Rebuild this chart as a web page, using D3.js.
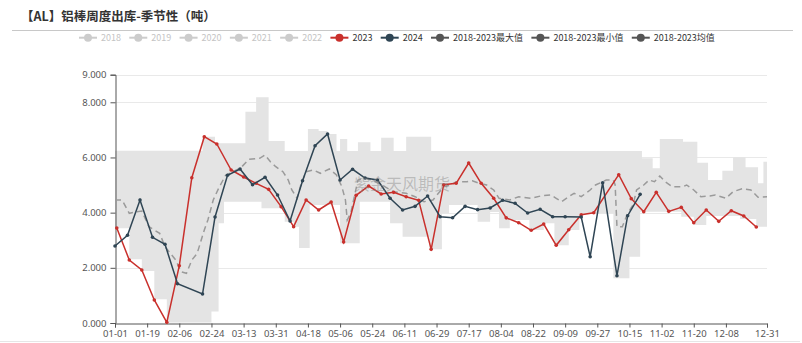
<!DOCTYPE html>
<html><head><meta charset="utf-8">
<script src="https://cdn.jsdelivr.net/npm/d3@7"></script>
<style>
html,body{margin:0;padding:0;background:#fff;}
svg{display:block;font-family:"Noto Sans CJK SC","Noto Sans",sans-serif;}
</style>
</head><body>
<svg id="chart" width="802" height="343"></svg>
<script>
const chartTitle = "【AL】铝棒周度出库-季节性（吨）";
const watermark = "紫金天风期货";
const legendNames = ["2018","2019","2020","2021","2022","2023","2024","2018-2023最大值","2018-2023最小值","2018-2023均值"];
const legendColors = ["#cccccc","#cccccc","#cccccc","#cccccc","#cccccc","#c9302c","#2f4554","#555555","#555555","#555555"];
const legendActive = [false,false,false,false,false,true,true,true,true,true];
const xTickLabels = ["01-01","01-19","02-06","02-24","03-13","03-31","04-18","05-06","05-24","06-11","06-29","07-17","08-04","08-22","09-09","09-27","10-15","11-02","11-20","12-08","12-31"];
const yTickValues = [0,2000,4000,6000,8000,9000];

const dates2023 = ["01-02","01-09","01-16","01-23","01-30","02-06","02-13","02-20","02-27","03-06","03-13","03-20","03-27","04-03","04-10","04-17","04-24","05-01","05-08","05-15","05-22","05-29","06-05","06-12","06-19","06-26","07-03","07-10","07-17","07-24","07-31","08-07","08-14","08-21","08-28","09-04","09-11","09-18","09-25","10-09","10-16","10-23","10-30","11-06","11-13","11-20","11-27","12-04","12-11","12-18","12-25"];
const values2023 = [3443,2283,1921,834,25,2077,5267,6753,6488,5545,5292,5063,4845,4216,3491,4458,4096,4386,2936,4628,4966,4676,4736,4578,4447,2670,5013,5063,5799,5063,4520,3811,3635,3360,3588,2816,3382,3925,3998,5375,4507,4035,4736,4047,4192,3635,4096,3685,4071,3878,3479];

const dates2024 = ["01-01","01-08","01-15","01-22","01-29","02-05","02-19","02-26","03-04","03-11","03-18","03-25","04-01","04-08","04-15","04-22","04-29","05-06","05-13","05-20","05-27","06-03","06-10","06-17","06-24","07-01","07-08","07-15","07-22","07-29","08-05","08-12","08-19","08-26","09-02","09-09","09-18","09-23","09-30","10-08","10-14","10-21"];
const values2024 = [2791,3178,4458,3106,2852,1424,1051,3842,5353,5582,5013,5281,4639,3697,5158,6427,6850,5183,5571,5255,5183,4520,4096,4229,4603,3853,3817,4229,4108,4168,4447,4338,3987,4121,3853,3853,3842,2404,5085,1714,3889,4664];

const maxDates = ["01-01","02-19","02-26","03-14","03-20","03-27","04-05","04-18","04-24","04-29","05-04","05-06","05-10","05-16","05-23","05-29","06-05","06-12","06-26","10-22","10-28","11-01","11-14","11-22","11-28","12-06","12-12","12-19","12-26","12-29"];
const maxValues = [6243,6753,6512,7659,8180,6597,6234,7031,6960,6850,6234,6669,6234,6549,6234,6717,6234,6753,6234,5970,5607,6669,6573,5813,5183,5520,6006,5643,5063,5848];

const minDates = ["01-01","01-09","01-16","01-23","01-30","02-24","02-28","03-02","03-23","04-05","04-10","04-13","04-19","05-06","05-17","06-03","06-10","06-25","07-02","07-06","07-22","07-29","08-03","08-09","08-20","08-28","09-03","09-11","09-17","10-06","10-15","10-21","11-13","11-20","11-27","12-16","12-25"];
const minValues = [3431,2307,1885,859,20,420,3613,4398,4157,3672,3491,2718,4277,2887,4398,3613,3128,2670,3976,4277,3672,4023,3431,3733,3371,3613,2816,3371,3976,1620,2403,4035,3853,3552,3878,3770,3490];

const meanDates = ["01-01","01-05","01-09","01-13","01-16","01-20","01-26","01-29","02-04","02-07","02-10","02-13","02-16","02-20","02-22","02-25","02-28","03-03","03-09","03-12","03-16","03-22","03-25","03-28","03-31","04-04","04-07","04-09","04-12","04-14","04-17","04-21","04-25","04-30","05-04","05-07","05-09","05-10","05-12","05-16","05-20","05-24","05-31","06-05","06-12","06-17","06-22","06-27","07-03","07-07","07-10","07-16","07-19","07-23","07-27","07-31","08-03","08-09","08-14","08-21","08-27","09-01","09-04","09-07","09-11","09-14","09-18","09-23","09-26","10-02","10-06","10-07","10-08","10-11","10-14","10-17","10-19","10-23","10-26","10-29","11-01","11-04","11-08","11-14","11-16","11-20","11-24","11-29","12-02","12-08","12-12","12-17","12-22","12-26","12-31"];
const meanValues = [4458,4458,3976,4034,4060,3490,3251,2765,2283,1859,1801,2283,2526,3371,3733,4458,4882,5364,5545,5665,5933,5970,6089,5846,5665,5484,5183,4821,4520,5002,5484,5545,5426,5582,5364,4940,4458,3733,3987,5183,5245,5183,4940,4759,4701,4578,4397,4458,4940,5002,5121,5121,5158,5063,5002,4821,4520,4458,4578,4520,4614,4639,4520,4397,4578,4701,4578,4821,5002,5183,5183,5002,3490,3490,3976,4277,4821,5002,5183,5121,5328,5121,4940,4940,5002,4821,4578,4603,4639,4520,4759,4868,4821,4556,4578];

const parse = md => d3.timeParse("%Y-%m-%d")("2024-" + md);
const svg = d3.select("#chart");
const W = 802, H = 343;
const plot = {left: 115, right: 767, top: 74.7, bottom: 323};

const x = d3.scaleTime().domain([parse("01-01"), parse("12-31")]).range([plot.left, plot.right]);
const y = d3.scaleLinear().domain([0, 9000]).range([plot.bottom, plot.top]);

svg.append("rect").attr("width", W).attr("height", H).attr("fill", "#fff");

// title
svg.append("text").attr("x", 21).attr("y", 21).attr("font-size", 12.5).attr("font-weight", "bold")
  .attr("fill", "#333").text(chartTitle);
svg.append("line").attr("x1", 12).attr("x2", 793).attr("y1", 30.5).attr("y2", 30.5)
  .attr("stroke", "#c8c8c8").attr("stroke-width", 1);
svg.append("line").attr("x1", 0).attr("x2", 800).attr("y1", 341.5).attr("y2", 341.5)
  .attr("stroke", "#e6e6e6").attr("stroke-width", 1);

// legend
const legend = svg.append("g");
const items = [];
let cursor = 0;
const gap = 8.3;
legendNames.forEach((name, i) => {
  const g = legend.append("g");
  const c = legendColors[i];
  g.append("line").attr("x1", 0).attr("x2", 18).attr("y1", 0).attr("y2", 0).attr("stroke", c).attr("stroke-width", 2);
  g.append("circle").attr("cx", 9).attr("cy", 0).attr("r", 4).attr("fill", c);
  const t = g.append("text").attr("x", 22).attr("y", 0).attr("dy", "0.35em").attr("font-size", 9)
    .attr("fill", legendActive[i] ? "#333" : "#c4c4c4").text(name);
  const w = t.node().getComputedTextLength();
  items.push({g, pos: cursor});
  cursor += 22 + w + gap;
});
const startX = 79;
items.forEach(it => it.g.attr("transform", `translate(${startX + it.pos},37.7)`));

// grid
svg.append("g").selectAll("line").data(yTickValues.filter(v => v > 0)).join("line")
  .attr("x1", plot.left).attr("x2", plot.right)
  .attr("y1", d => Math.round(y(d)) + 0.5).attr("y2", d => Math.round(y(d)) + 0.5)
  .attr("stroke", "#e9e9e9").attr("stroke-width", 1);

// band between min and max, as a step area
const maxSteps = maxDates.map((d, i) => ({t: parse(d), v: maxValues[i]}));
const minSteps = minDates.map((d, i) => ({t: parse(d), v: minValues[i]}));
const stepAt = (steps, t) => { let v = steps[0].v; for (const s of steps) { if (s.t <= t) v = s.v; else break; } return v; };
const allT = Array.from(new Set(maxSteps.concat(minSteps).map(s => +s.t).concat([+parse("12-31")]))).sort((a, b) => a - b).map(t => new Date(t));
const bandData = allT.map(t => ({t, lo: stepAt(minSteps, t), hi: stepAt(maxSteps, t)}));
svg.append("path").datum(bandData)
  .attr("d", d3.area().curve(d3.curveStepAfter).x(d => x(d.t)).y0(d => y(d.lo)).y1(d => y(d.hi)))
  .attr("fill", "#e4e4e4").attr("stroke", "none");

// axes
const yAxis = d3.axisLeft(y).tickValues(yTickValues).tickSize(5).tickPadding(4)
  .tickFormat(v => d3.format(".3f")(v / 1000));
const gy = svg.append("g").attr("transform", `translate(${plot.left + 0.5},0)`).call(yAxis);
gy.select(".domain").attr("stroke", "#555");
gy.selectAll(".tick line").attr("stroke", "#555");
gy.selectAll("text").attr("font-size", 9.5).attr("fill", "#555").attr("font-family", "'Noto Sans','Noto Sans CJK SC',sans-serif");

const xAxis = d3.axisBottom(x).tickValues(xTickLabels.map(parse)).tickSize(4).tickPadding(3)
  .tickFormat(d3.timeFormat("%m-%d"));
const gx = svg.append("g").attr("transform", `translate(0,${plot.bottom + 0.5})`).call(xAxis);
gx.select(".domain").attr("stroke", "#555");
gx.selectAll(".tick line").attr("stroke", "#555");
gx.selectAll("text").attr("font-size", 9.5).attr("fill", "#555").attr("font-family", "'Noto Sans','Noto Sans CJK SC',sans-serif");

// mean dashed
svg.append("path").datum(meanDates.map((d, i) => [x(parse(d)), y(meanValues[i])]))
  .attr("d", d3.line()).attr("fill", "none").attr("stroke", "#9a9a9a").attr("stroke-width", 1.5)
  .attr("stroke-dasharray", "6,4");

function drawSeries(dates, values, color) {
  const pts = dates.map((d, i) => [x(parse(d)), y(values[i])]);
  svg.append("path").datum(pts).attr("d", d3.line()).attr("fill", "none")
    .attr("stroke", color).attr("stroke-width", 1.5);
  svg.append("g").selectAll("circle").data(pts).join("circle")
    .attr("cx", d => d[0]).attr("cy", d => d[1]).attr("r", 1.8).attr("fill", color);
}
drawSeries(dates2023, values2023, "#c9302c");
drawSeries(dates2024, values2024, "#2f4554");

// watermark
svg.append("text").attr("x", 354).attr("y", 190).attr("font-size", 16)
  .attr("fill", "#888").attr("fill-opacity", 0.45).text(watermark);
</script>
</body></html>
